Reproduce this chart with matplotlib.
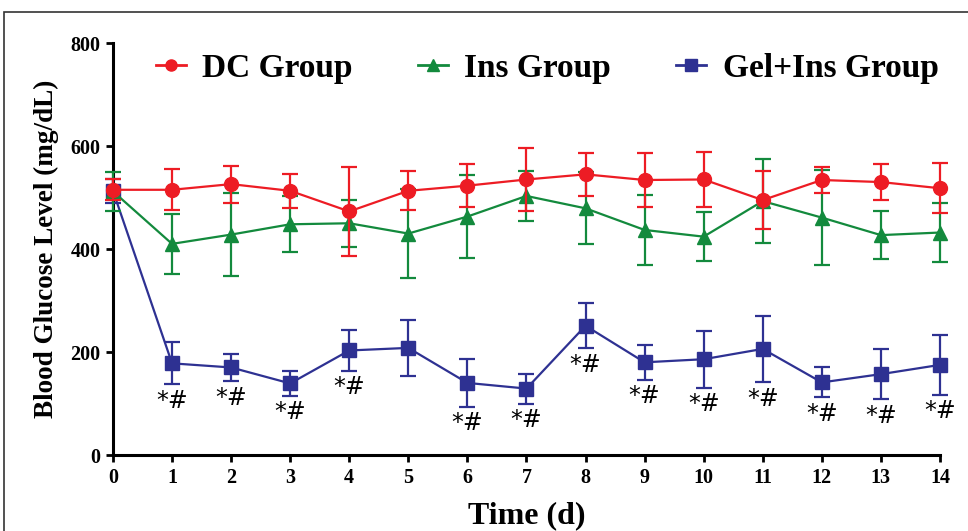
import matplotlib
matplotlib.use("Agg")
import matplotlib.pyplot as plt
from matplotlib.lines import Line2D
from matplotlib.patches import Rectangle

days = list(range(15))

dc_mean = [515, 515, 526, 513, 473, 513, 523, 535, 545, 534, 535, 495, 534, 530, 518]
dc_sd = [20, 40, 36, 33, 86, 38, 42, 61, 42, 52, 53, 56, 25, 35, 49]

ins_mean = [512, 410, 428, 448, 450, 430, 463, 503, 479, 437, 424, 493, 461, 427, 432]
ins_sd = [38, 58, 80, 54, 46, 87, 81, 48, 70, 68, 48, 82, 93, 47, 57]

gel_mean = [513, 178, 170, 139, 203, 208, 140, 129, 251, 180, 186, 206, 141, 157, 175]
gel_sd = [23, 41, 27, 24, 39, 55, 46, 29, 44, 34, 55, 64, 29, 49, 58]

# days marked *# (significant vs DC and Ins)
sig_days = [1, 2, 3, 4, 6, 7, 8, 9, 10, 11, 12, 13, 14]

RED = "#ED1C24"
GREEN = "#138A3D"
BLUE = "#2E3192"

plt.rcParams.update({
    "font.family": "Liberation Serif",
    "font.weight": "bold",
})

fig = plt.figure(figsize=(9.68, 5.31), dpi=100)
ax = fig.add_axes([0.1167, 0.1431, 0.971 - 0.1167, 0.919 - 0.1431])

common = dict(linewidth=1.6, elinewidth=1.6, capsize=6, capthick=1.6,
              markersize=10, clip_on=False)

series = [
    (gel_mean, gel_sd, BLUE, "s", 3),
    (ins_mean, ins_sd, GREEN, "^", 4),
    (dc_mean, dc_sd, RED, "o", 5),
]
for mean, sd, color, marker, z in series:
    h = ax.errorbar(days, mean, yerr=sd, color=color, marker=marker,
                    zorder=z, **common)
    for part in h.lines[1] + h.lines[2]:
        part.set_clip_on(False)

for d in sig_days:
    ax.annotate("*#", xy=(d, gel_mean[d] - gel_sd[d]), xytext=(0, -12),
                textcoords="offset points", ha="center", va="center",
                fontsize=17, fontweight="normal", family="DejaVu Sans")

ax.set_xlim(0, 14)
ax.set_ylim(0, 800)
ax.set_xticks(days)
ax.set_yticks([0, 200, 400, 600, 800])
ax.tick_params(width=2, length=5, labelsize=14.5, pad=4)
for lab in ax.get_xticklabels() + ax.get_yticklabels():
    lab.set_fontweight("bold")
for s in ["top", "right"]:
    ax.spines[s].set_visible(False)
for s in ["left", "bottom"]:
    ax.spines[s].set_linewidth(2.2)

ax.set_xlabel("Time (d)", fontsize=23, fontweight="bold", labelpad=10)
ax.set_ylabel("Blood Glucose Level (mg/dL)", fontsize=19.5, fontweight="bold", labelpad=8)

labels = ["DC Group", "Ins Group", "Gel+Ins Group"]
leg_handles = [
    Line2D([], [], color=RED, marker="o", markersize=8, linewidth=2),
    Line2D([], [], color=GREEN, marker="^", markersize=8, linewidth=2),
    Line2D([], [], color=BLUE, marker="s", markersize=8, linewidth=2),
]
leg = ax.legend(leg_handles, labels, loc="center",
                bbox_to_anchor=(0.525, 0.938), ncol=3, frameon=False,
                fontsize=24, handlelength=0.9, columnspacing=1.95,
                handletextpad=0.5)
for t in leg.get_texts():
    t.set_fontweight("bold")

fig.patches.append(Rectangle((0.004, -0.1), 1.2, 1.1 - 12 / 531,
                             transform=fig.transFigure, fill=False,
                             linewidth=1.2, edgecolor="#333333"))

fig.savefig("out.png", dpi=100)
